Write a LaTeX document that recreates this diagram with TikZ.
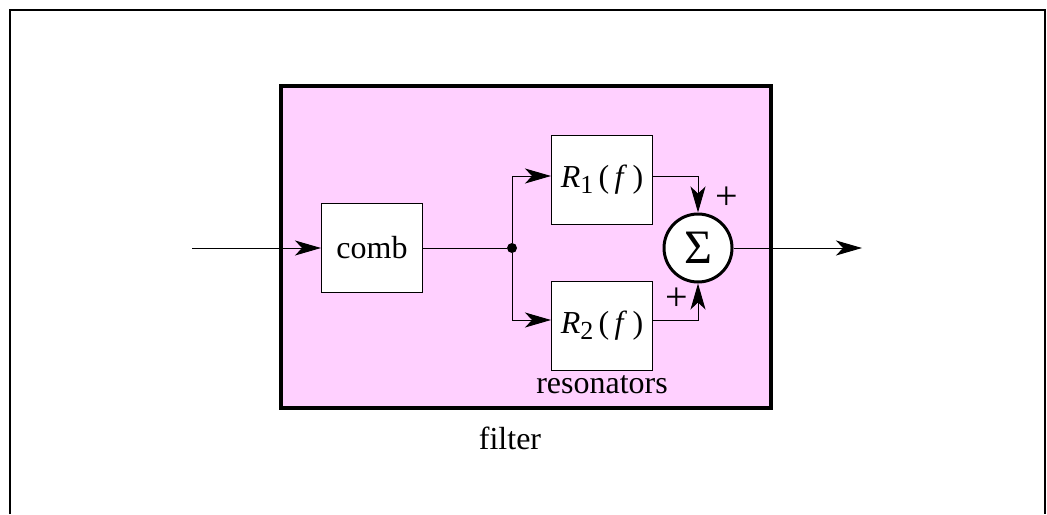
\documentclass[tikz,border=0pt]{standalone}
\usepackage{fontspec}
\setmainfont{Liberation Serif}
\usetikzlibrary{arrows.meta}
\definecolor{RosaFiltro}{RGB}{255,208,255}
\newcommand{\resfun}[1]{\textit{R}\raisebox{-0.35ex}{\fontsize{13}{13}\selectfont #1}\,(\,\textit{f}\,)}

\begin{document}
\begin{tikzpicture}[x=0.5pt,y=-0.5pt,
  >={Stealth[length=13pt,width=7.5pt,inset=3.5pt]},
  bloque/.style={draw,fill=white,line width=0.5pt,minimum width=50.5pt,
    minimum height=44.5pt,inner sep=0pt,font=\fontsize{16}{18}\selectfont},
  sumador/.style={circle,draw,fill=white,line width=1.5pt,minimum size=34pt,
    inner sep=0pt,font=\fontsize{24}{26}\selectfont},
  etiqueta/.style={font=\fontsize{16}{18}\selectfont},
  signo/.style={font=\fontsize{20}{20}\selectfont,inner sep=0pt}]
  \useasboundingbox (0,0) rectangle (1047,514);
  \draw[line width=1pt] (10,514)--(10,10)--(1045,10)--(1045,514);
  \draw[line width=1.8pt,fill=RosaFiltro] (281,86) rectangle (771,408);
  \node[bloque] (comb) at (372,248) {comb};
  \node[bloque] (R1) at (602,180) {\resfun{1}};
  \node[bloque] (R2) at (602,326) {\resfun{2}};
  \node[sumador] (suma) at (698,248) {Σ};
  \node[circle,fill,inner sep=0pt,minimum size=5pt] (nudo) at (512,248) {};
  \coordinate (entrada) at (192,248);
  \coordinate (salida) at (862,248);
  \draw[->,line width=0.5pt] (entrada) -- (comb);
  \draw[line width=0.5pt] (comb) -- (nudo);
  \draw[->,line width=0.5pt] (nudo) |- ([yshift=2pt]R1.west);
  \draw[->,line width=0.5pt] (nudo) |- ([yshift=3pt]R2.west);
  \draw[->,line width=0.5pt] ([yshift=2pt]R1.east) -| (suma.north);
  \draw[->,line width=0.5pt] ([yshift=3pt]R2.east) -| (suma.south);
  \draw[->,line width=0.5pt] (suma) -- (salida);
  \node[signo] (mas1) at (727,198) {+};
  \node[signo] (mas2) at (677,299) {+};
  \node[etiqueta] (reson) at (602,385) {resonators};
  \node[etiqueta] (filtro) at (510,438) {filter};
\end{tikzpicture}
\end{document}
